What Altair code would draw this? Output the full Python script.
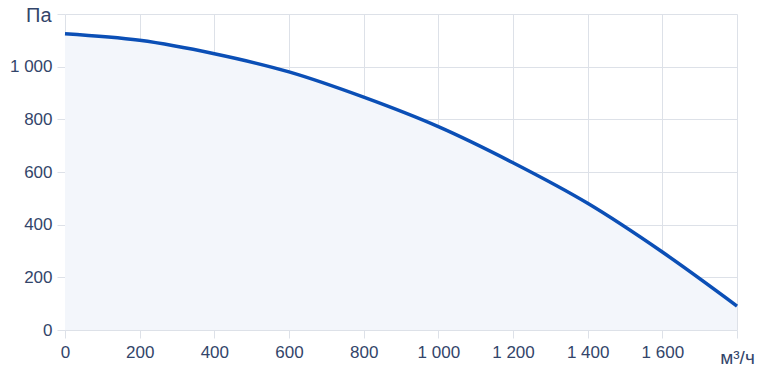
import altair as alt
import pandas as pd

flow = [0, 200, 400, 600, 800, 1000, 1200, 1400, 1600, 1800]
pressure = [1125, 1100, 1049, 980, 884, 772, 635, 481, 296, 91]

x_ticks = [0, 200, 400, 600, 800, 1000, 1200, 1400, 1600, 1800]
y_ticks = [0, 200, 400, 600, 800, 1000, 1200]

df = pd.DataFrame({"q": flow, "p": pressure})

text_color = "#33456a"
grid_color = "#dde1e8"
font = "Liberation Sans"

x_enc = alt.X(
    "q:Q",
    scale=alt.Scale(domain=[0, 1800], nice=False, zero=False),
    axis=alt.Axis(
        values=x_ticks,
        labelExpr="datum.value == 1800 ? '' : replace(format(datum.value, ','), ',', ' ')",
        title="м³/ч",
        titleX=672,
        titleY=33,
        titleAlign="center",
        titleBaseline="alphabetic",
        titleFontSize=19,
        titleFontWeight="normal",
        titleColor=text_color,
        titleFont=font,
        labelFont=font,
        labelFontSize=17,
        labelColor=text_color,
        labelPadding=6,
        labelFlush=False,
        tickColor=grid_color,
        tickSize=8,
        domain=False,
        gridColor=grid_color,
        labelOverlap=False,
    ),
)
y_enc = alt.Y(
    "p:Q",
    scale=alt.Scale(domain=[0, 1200], nice=False),
    axis=alt.Axis(
        values=y_ticks,
        labelExpr="datum.value == 1200 ? '' : replace(format(datum.value, ','), ',', ' ')",
        title="Па",
        titleAngle=0,
        titleX=-14,
        titleY=7,
        titleAlign="right",
        titleBaseline="alphabetic",
        titleFontSize=20,
        titleFontWeight="normal",
        titleColor=text_color,
        titleFont=font,
        labelFont=font,
        labelFontSize=17,
        labelColor=text_color,
        labelPadding=5,
        labelFlush=False,
        tickColor=grid_color,
        tickSize=8,
        domain=False,
        gridColor=grid_color,
        labelOverlap=False,
    ),
)

area = alt.Chart(df).mark_area(color="#f3f6fb", interpolate="monotone").encode(x=x_enc, y=y_enc)
line = alt.Chart(df).mark_line(color="#0b4fb6", strokeWidth=3.5, interpolate="monotone").encode(x="q:Q", y="p:Q")

chart = (
    alt.layer(area, line)
    .properties(
        width=672,
        height=316,
        autosize=alt.AutoSizeParams(type="none"),
        padding={"left": 65, "top": 14, "right": 26, "bottom": 42},
        background="white",
    )
    .configure_view(stroke=None)
)

chart.save("out.html", embed_options={"renderer": "svg", "actions": False})
